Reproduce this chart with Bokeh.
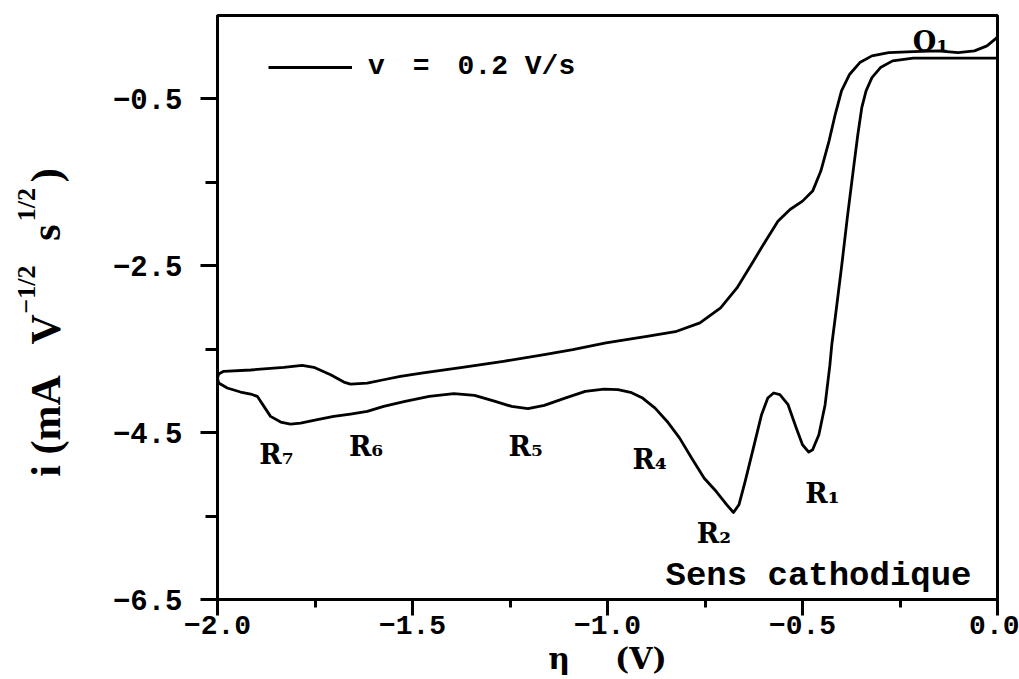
from bokeh.plotting import figure
from bokeh.models import (FixedTicker, Label, Legend, LegendItem, Range1d, Title,
                          CustomJSTickFormatter)
from bokeh.embed import file_html
from bokeh.resources import INLINE

# ---------------- data ----------------
# cathodic scan: 0 V -> -2 V
cath_eta = [0.000, -0.100, -0.216, -0.269, -0.300, -0.322, -0.337, -0.348, -0.358, -0.369,
            -0.385, -0.400, -0.416, -0.425, -0.430, -0.442, -0.458, -0.474, -0.484, -0.500,
            -0.516, -0.537, -0.558, -0.574, -0.589, -0.605, -0.626, -0.647, -0.663, -0.677,
            -0.694, -0.721, -0.752, -0.784, -0.815, -0.847, -0.878, -0.910, -0.941, -0.973,
            -1.009, -1.057, -1.109, -1.162, -1.204, -1.246, -1.288, -1.341, -1.394, -1.457,
            -1.519, -1.574, -1.616, -1.659, -1.702, -1.744, -1.787, -1.813, -1.838, -1.864,
            -1.881, -1.898, -1.915, -1.941, -1.975, -1.997, -2.000]
cath_i = [-0.010, -0.010, -0.011, -0.044, -0.124, -0.244, -0.404, -0.604, -0.924, -1.324,
          -1.920, -2.520, -3.120, -3.450, -3.700, -4.165, -4.525, -4.705, -4.733, -4.645,
          -4.445, -4.165, -4.045, -4.025, -4.085, -4.285, -4.685, -5.085, -5.365, -5.457,
          -5.365, -5.206, -5.046, -4.806, -4.566, -4.366, -4.206, -4.086, -4.017, -3.985,
          -3.978, -4.006, -4.086, -4.173, -4.213, -4.186, -4.125, -4.053, -4.033, -4.065,
          -4.125, -4.185, -4.245, -4.277, -4.305, -4.345, -4.385, -4.397, -4.373, -4.305,
          -4.185, -4.065, -4.037, -4.013, -3.965, -3.905, -3.845]

# anodic return scan: -2 V -> 0 V
anod_eta = [-1.997, -1.984, -1.915, -1.830, -1.783, -1.753, -1.710, -1.676, -1.659, -1.616,
            -1.574, -1.531, -1.477, -1.372, -1.267, -1.162, -1.089, -1.004, -0.899, -0.826,
            -0.763, -0.710, -0.668, -0.626, -0.595, -0.563, -0.532, -0.500, -0.474, -0.453,
            -0.432, -0.416, -0.400, -0.379, -0.353, -0.322, -0.279, -0.216, -0.153, -0.101,
            -0.059, -0.027, -0.006, 0.000]
anod_i = [-3.797, -3.765, -3.749, -3.717, -3.693, -3.717, -3.805, -3.894, -3.918, -3.906,
          -3.866, -3.826, -3.786, -3.717, -3.645, -3.565, -3.505, -3.425, -3.345, -3.290,
          -3.185, -3.005, -2.765, -2.445, -2.205, -1.965, -1.825, -1.725, -1.605, -1.365,
          -1.005, -0.684, -0.404, -0.204, -0.064, 0.016, 0.056, 0.068, 0.076, 0.056,
          0.076, 0.136, 0.216, 0.244]

# peak labels
peak_names = ["R\u2087", "R\u2086", "R\u2085", "R\u2084", "R\u2082", "R\u2081", "O\u2081"]
peak_eta = [-1.893, -1.663, -1.254, -0.936, -0.771, -0.493, -0.217]
peak_i = [-4.76, -4.67, -4.67, -4.82, -5.71, -5.23, 0.184]

x_major = [-2.0, -1.5, -1.0, -0.5, 0.0]
x_minor = [-1.75, -1.25, -0.75, -0.25]
y_major = [-6.5, -4.5, -2.5, -0.5]
y_minor = [-5.5, -3.5, -1.5]

legend_text = "v\u2003=\u20030.2 V/s"
note_text = "Sens cathodique"
x_title = "\u03b7\u2003\u2002(V)"
# y title: main line, with room left for the two superscripts (drawn as a second title)
y_title_main = "i (mA\u2002 V\u2003\u2002 s\u2003)\u2002\u2009"
y_title_sup = "\u22121/2\u2003\u2002\u20091/2"

# ---------------- figure ----------------
FL, FR, FT, FB = 217, 997, 15, 599  # frame edges in canvas pixels
X0, X1, Y0, Y1 = -2.0, 0.0, -6.5, 0.5


def dx(cx):
    return X0 + (cx - FL) * (X1 - X0) / (FR - FL)


def dy(cy):
    return Y0 + (FB - cy) * (Y1 - Y0) / (FB - FT)


p = figure(width=1019, height=679, output_backend="svg", toolbar_location=None,
           x_range=Range1d(X0, X1), y_range=Range1d(Y0, Y1),
           min_border_left=FL, min_border_right=1019 - FR, min_border_top=FT,
           min_border_bottom=679 - FB)
p.background_fill_color = "white"
p.border_fill_color = "white"
p.outline_line_color = "black"
p.outline_line_width = 3
p.xgrid.grid_line_color = None
p.ygrid.grid_line_color = None

fmt = CustomJSTickFormatter(code="return tick.toFixed(1).replace('-', '\u2212');")
TICK_FONT = "Liberation Mono"

xa = p.xaxis[0]
xa.ticker = FixedTicker(ticks=x_major, minor_ticks=x_minor)
xa.formatter = fmt
xa.axis_line_width = 3
xa.major_tick_line_width = 3
xa.minor_tick_line_width = 3
xa.major_tick_in = 0
xa.major_tick_out = 16
xa.minor_tick_in = 0
xa.minor_tick_out = 8
xa.major_label_standoff = 0
xa.major_label_text_font = TICK_FONT
xa.major_label_text_font_style = "bold"
xa.major_label_text_font_size = "28px"
xa.major_label_text_color = "black"
xa.axis_label = x_title
xa.axis_label_text_font = "DejaVu Serif"
xa.axis_label_text_font_style = "bold"
xa.axis_label_text_font_size = "30px"
xa.axis_label_standoff = 4
xa.axis_label_text_color = "black"

ya = p.yaxis[0]
ya.ticker = FixedTicker(ticks=y_major, minor_ticks=y_minor)
ya.formatter = fmt
ya.axis_line_width = 3
ya.major_tick_line_width = 3
ya.minor_tick_line_width = 3
ya.major_tick_in = 0
ya.major_tick_out = 17
ya.minor_tick_in = 0
ya.minor_tick_out = 12
ya.major_label_standoff = 18
ya.major_label_text_font = TICK_FONT
ya.major_label_text_font_style = "bold"
ya.major_label_text_font_size = "29px"
ya.major_label_text_color = "black"
ya.axis_label = y_title_main
ya.axis_label_text_font = "Liberation Serif"
ya.axis_label_text_font_style = "bold"
ya.axis_label_text_font_size = "42px"
ya.axis_label_standoff = 41
ya.axis_label_text_color = "black"

# superscripts of the y title, as a rotated title further out in the left margin
p.add_layout(Title(text=y_title_sup, align="left", offset=FB - 313,
                   vertical_align="bottom", standoff=-42,
                   text_font="Liberation Serif", text_font_style="bold",
                   text_font_size="26px", text_color="black"), "left")

# ---------------- curve ----------------
loop_eta = cath_eta + anod_eta
loop_i = cath_i + anod_i
r = p.line(loop_eta, loop_i, line_color="black", line_width=2.8, line_join="round")

legend = Legend(items=[LegendItem(label=legend_text, renderers=[r])],
                location=(268 - FL, FB - 69 - 13), margin=0, padding=0, spacing=0,
                glyph_width=84, glyph_height=26, label_height=26, label_standoff=16,
                label_text_font="Liberation Mono", label_text_font_style="bold",
                label_text_font_size="28px", label_text_color="black",
                background_fill_alpha=0, border_line_alpha=0)
p.add_layout(legend)

# ---------------- annotations ----------------
for name, ex, iy in zip(peak_names, peak_eta, peak_i):
    p.add_layout(Label(x=ex, y=iy, text=name, text_font="DejaVu Serif",
                       text_font_style="bold", text_font_size="27px",
                       text_color="black", text_baseline="alphabetic", text_align="left"))

p.add_layout(Label(x=dx(818), y=dy(575), text=note_text, text_font="Liberation Mono",
                   text_font_style="bold", text_font_size="34px", text_color="black",
                   text_baseline="alphabetic", text_align="center"))

open("out.html", "w").write(file_html(p, INLINE))
